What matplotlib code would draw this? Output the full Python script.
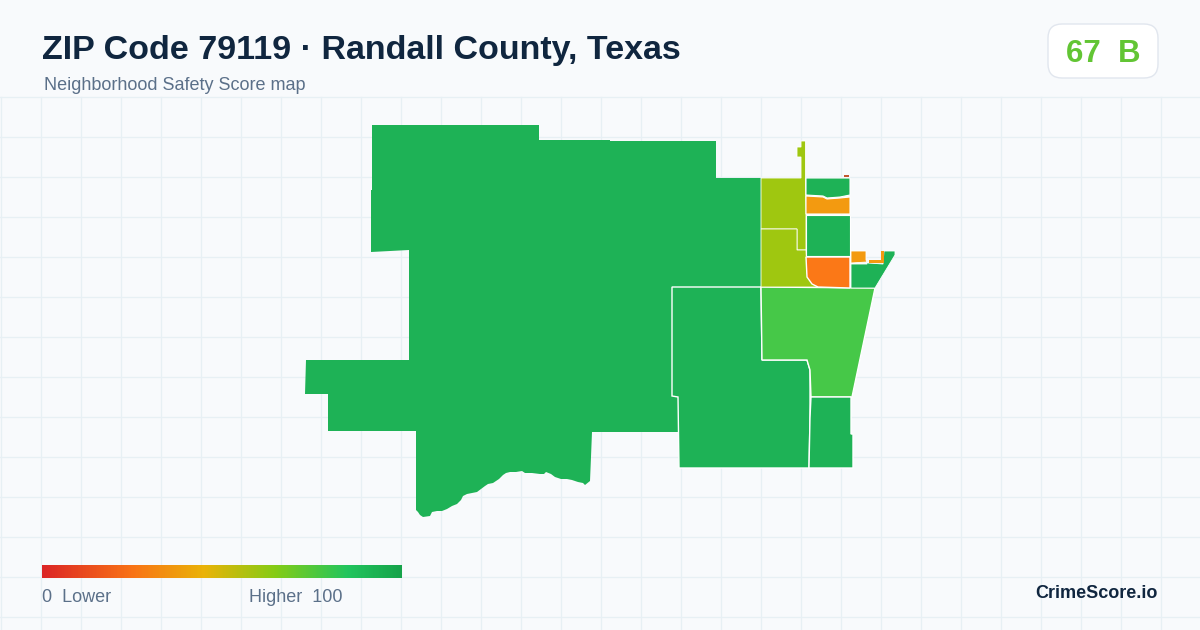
"""ZIP 79119 safety score map card, drawn on a pixel-sized canvas."""
import matplotlib
matplotlib.use("Agg")
import matplotlib.pyplot as plt
import numpy as np
from matplotlib.colors import LinearSegmentedColormap
from matplotlib.patches import FancyBboxPatch, Polygon

plt.rcParams["font.family"] = ["Liberation Sans", "DejaVu Sans"]

BG = "#f8fafc"
GRID = "#e7f0f4"
GREEN = "#1eb256"
LIME = "#9fc710"
LIGHT = "#46c848"
AMBER = "#f39a10"
ORANGE = "#fb7817"
RUST = "#c2562e"

west_tract = [
    (372, 125), (539, 125), (539, 140), (610, 140), (610, 141), (716, 141), (716, 178),
    (761, 178), (761, 287), (672, 287), (672, 396), (678, 397), (678, 432), (592, 432),
    (591, 457), (590, 481), (585, 485), (583, 483), (578, 482), (572, 480), (567, 479),
    (561, 479), (555, 477), (551, 474), (546, 472), (544, 474), (540, 474), (532, 473),
    (525, 473), (522, 471), (516, 472), (510, 472), (506, 473), (503, 475), (499, 479),
    (493, 483), (488, 484), (485, 486), (481, 489), (477, 492), (472, 493), (467, 494),
    (463, 496), (461, 500), (457, 504), (452, 506), (447, 509), (442, 511), (437, 511),
    (432, 512), (430, 516), (423, 517), (420, 515), (418, 512), (416, 510), (416, 431),
    (328, 431), (328, 394), (305, 394), (306, 360), (409, 360), (409, 250), (371, 252),
    (371, 190), (372, 190),
]
south_tract = [
    (672, 287), (761, 287), (762, 360), (807, 360), (810, 370), (810, 418), (809, 468),
    (679, 468), (678, 397), (672, 396),
]
score_tract = [
    (761, 287), (875, 288), (871, 307), (852, 397), (811, 397), (810, 370), (807, 360),
    (762, 360),
]
corner_tract = [
    (811, 397), (851, 397), (851, 434), (853, 434), (853, 468), (809, 468), (810, 418),
]
lime_north = [
    (761, 178), (801, 178), (801, 157), (797, 157), (797, 147), (801, 147), (801, 141),
    (805.5, 141), (805.5, 178), (806, 215), (806, 250), (797, 250), (797, 229), (761, 229),
]
lime_south = [
    (761, 229), (797, 229), (797, 250), (806, 250), (807, 273), (810, 280), (818, 287),
    (761, 287),
]
east_top = [
    (806, 178), (850, 178), (850, 195), (840, 197), (827, 198), (823, 196), (806, 195),
]
east_amber = [
    (806, 196), (823, 197), (827, 199), (840, 198), (850, 197), (850, 214), (806, 214),
]
east_mid = [(806, 215), (850, 215), (850, 256), (806, 256)]
east_orange = [
    (806, 257), (850, 257), (850, 288), (818, 287), (812, 284), (807, 277),
]
east_wedge = [
    (851, 264), (867, 264), (867, 261), (868, 263), (883, 264), (884, 251), (895, 251),
    (895, 255), (875, 288), (851, 288),
]
amber_block = [(851, 251), (866, 251), (866, 260), (867, 262), (851, 263)]
amber_strip = [
    (869, 260), (881, 260), (881, 251), (884, 251), (884, 263), (869, 263),
]
rust_sliver = [(844, 175), (849, 175), (849, 177), (844, 177)]

# (outline, fill, white edge width)
tracts = [
    (west_tract, GREEN, 0), (south_tract, GREEN, 1), (score_tract, LIGHT, 1),
    (corner_tract, GREEN, 1), (lime_north, LIME, 0.6), (lime_south, LIME, 0.6),
    (east_top, GREEN, 0.8), (east_amber, AMBER, 0.8), (east_mid, GREEN, 0.8),
    (east_orange, ORANGE, 1), (east_wedge, GREEN, 0.6), (amber_block, AMBER, 0.6),
    (amber_strip, AMBER, 0), (rust_sliver, RUST, 0),
]

legend_stops = [
    (0.0, "#dc2626"), (0.25, "#f97316"), (0.45, "#eab308"),
    (0.65, "#84cc16"), (0.85, "#22c55e"), (1.0, "#16a34a"),
]

fig = plt.figure(figsize=(12, 6.3), dpi=100, facecolor=BG)
ax = fig.add_axes([0, 0, 1, 1])
ax.set_xlim(0, 1200)
ax.set_ylim(630, 0)
ax.axis("off")

# faint grid, starts below the header
for x in np.arange(0.5, 1200, 40):
    ax.plot([x, x], [96.5, 630], color=GRID, lw=0.9, zorder=1)
for y in np.arange(96.5, 630, 40):
    ax.plot([0, 1200], [y, y], color=GRID, lw=0.9, zorder=1)

for points, colour, edge in tracts:
    ax.add_patch(Polygon(points, closed=True, facecolor=colour,
                         edgecolor="white" if edge else "none",
                         lw=edge, joinstyle="miter", zorder=2))

ax.text(42, 59, "ZIP Code 79119 · Randall County, Texas", fontsize=24.5, fontweight="bold",
        color="#10263f", va="baseline", ha="left", zorder=5)
ax.text(44, 90.5, "Neighborhood Safety Score map", fontsize=13, color="#5b7089",
        va="baseline", ha="left", zorder=5)

ax.add_patch(FancyBboxPatch((1062, 38), 82, 26, boxstyle="round,pad=14,rounding_size=14",
                            facecolor="white", edgecolor="#e1e6ee", lw=1, zorder=4))
ax.text(1103, 61.5, "67  B", fontsize=22.5, fontweight="bold", color="#62c534",
        va="baseline", ha="center", zorder=5)

cmap = LinearSegmentedColormap.from_list("score", legend_stops)
ax.imshow(np.linspace(0, 1, 360).reshape(1, -1), cmap=cmap, extent=(42, 402, 578, 565),
          aspect="auto", zorder=3)
ax.set_xlim(0, 1200)
ax.set_ylim(630, 0)

ax.text(42, 602.5, "0  Lower", fontsize=13, color="#5b7089", va="baseline", ha="left", zorder=5)
ax.text(249, 602.5, "Higher  100", fontsize=13, color="#5b7089", va="baseline", ha="left", zorder=5)
ax.text(1158, 598.5, "CrimeScore.io", fontsize=13, fontweight="bold", color="#10263f",
        va="baseline", ha="right", zorder=5)

fig.savefig("out.png", dpi=100, facecolor=BG)
plt.close(fig)
